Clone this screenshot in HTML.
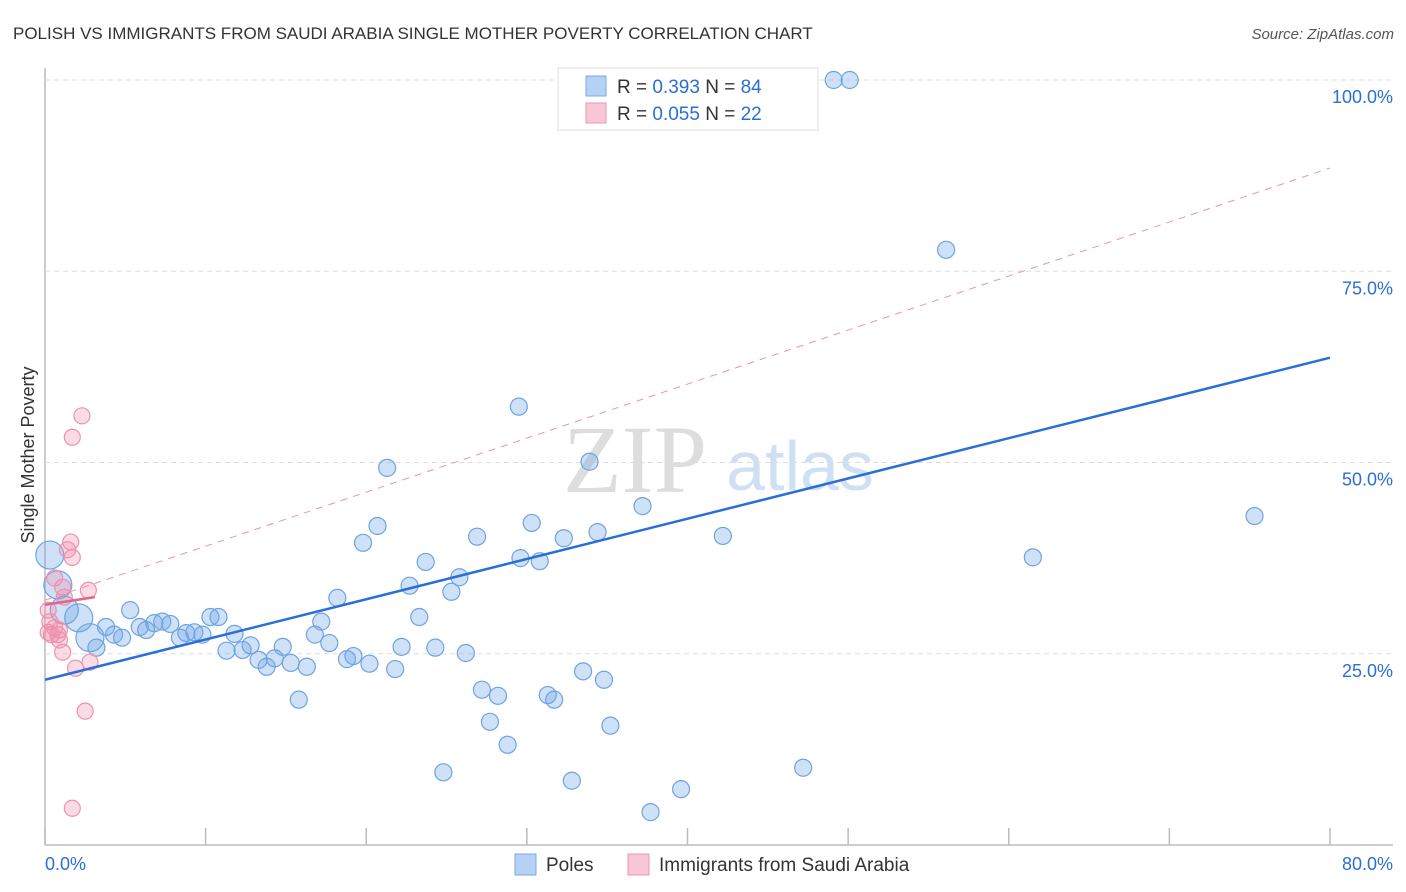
<!DOCTYPE html>
<html><head><meta charset="utf-8"><style>
body{margin:0;background:#fff;font-family:"Liberation Sans",sans-serif}
svg{display:block}
</style></head><body>
<svg id="c" width="1406" height="892" xmlns="http://www.w3.org/2000/svg">
<text x="13" y="39" font-size="17" fill="#333">POLISH VS IMMIGRANTS FROM SAUDI ARABIA SINGLE MOTHER POVERTY CORRELATION CHART</text>
<text x="1394" y="39" font-size="15" fill="#555" font-style="italic" text-anchor="end">Source: ZipAtlas.com</text>
<text x="34" y="455" font-size="18" fill="#333" text-anchor="middle" transform="rotate(-90 34 455)">Single Mother Poverty</text>
<text x="635" y="492" font-size="96" fill="#ddd" font-family="Liberation Serif,serif" text-anchor="middle">ZIP</text>
<text x="800" y="490" font-size="70" fill="#cfe0f4" text-anchor="middle">atlas</text>
<g id="grid"></g><g id="pts"></g><g id="lines"></g>
<g>
<rect x="558" y="68" width="260" height="62" fill="#fff" stroke="#ddd"/>
<rect x="586" y="76" width="20" height="20" fill="#b5d1f3" stroke="#7aaae6"/>
<text x="617" y="93" font-size="19" fill="#333">R = <tspan fill="#2a6fd6">0.393</tspan>   N = <tspan fill="#2a6fd6">84</tspan></text>
<rect x="586" y="103" width="20" height="20" fill="#f8c6d4" stroke="#e89ab2"/>
<text x="617" y="120" font-size="19" fill="#333">R = <tspan fill="#2a6fd6">0.055</tspan>   N = <tspan fill="#2a6fd6">22</tspan></text>
</g>
<g>
<rect x="515" y="854" width="21" height="21" fill="#b5d1f3" stroke="#7aaae6"/>
<text x="546" y="871" font-size="19" fill="#333">Poles</text>
<rect x="628" y="854" width="21" height="21" fill="#f8c6d4" stroke="#e89ab2"/>
<text x="659" y="871" font-size="19" fill="#333">Immigrants from Saudi Arabia</text>
</g>
</svg>
<script>
const xTicks=[0,10,20,30,40,50,60,70,80];
const yTicks=[25,50,75,100];
const yTickLabels=["25.0%","50.0%","75.0%","100.0%"];
const polesX=[0.3,0.8,1.2,2.1,2.8,3.2,3.8,4.3,4.8,5.3,5.9,6.3,6.8,7.3,7.8,8.4,8.8,9.3,9.8,10.3,10.8,11.3,11.8,12.3,12.8,13.3,13.8,14.3,14.8,15.3,15.8,16.3,16.8,17.2,17.7,18.2,18.8,19.2,19.8,20.2,20.7,21.3,21.8,22.2,22.7,23.3,23.7,24.3,24.8,25.3,25.8,26.2,26.9,27.2,27.7,28.2,28.8,29.5,29.6,30.3,30.8,31.3,31.7,32.3,32.8,33.5,33.9,34.4,34.8,35.2,36.0,37.2,37.7,39.6,40.3,42.2,43.3,47.2,49.1,50.1,56.1,61.5,75.3];
const polesY=[37.9,34.0,30.7,29.7,27.1,25.8,28.5,27.5,27.1,30.7,28.5,28.1,29.0,29.2,28.9,27.1,27.7,27.8,27.5,29.8,29.8,25.4,27.6,25.5,26.1,24.2,23.3,24.4,25.9,23.8,19.0,23.3,27.5,29.2,26.4,32.3,24.3,24.7,39.5,23.7,41.7,49.3,23.0,25.9,33.9,29.8,37.0,25.8,9.5,33.1,35.0,25.1,40.3,20.3,16.1,19.5,13.1,57.3,37.5,42.1,37.1,19.6,19.0,40.1,8.4,22.7,50.1,40.9,21.6,15.6,100,44.3,4.3,7.3,100,40.4,100,10.1,100,100,77.8,37.6,43.0];
const polesBig=[1,1,1,1,1];
const saudiX=[0.2,0.3,0.4,0.6,0.8,0.9,1.1,1.1,1.2,1.4,1.6,1.7,1.7,1.9,2.3,2.5,2.7,2.8,1.7,0.6,0.2,0.9];
const saudiY=[30.7,29.2,27.5,28.4,27.5,28.1,25.2,33.7,32.4,38.6,39.6,53.3,37.6,23.1,56.1,17.5,33.3,23.9,4.8,34.9,27.8,26.8];
const polesTrend=[21.6,63.7];
const saudiTrend=[32.0,88.5];
const saudiSolid=[[0,31.4],[3.1,32.4]];
const NS="http://www.w3.org/2000/svg";
const X=v=>45+v*(1285/80), Y=v=>845-v*7.65;
function mk(t,a,p){const e=document.createElementNS(NS,t);for(const k in a)e.setAttribute(k,a[k]);p.appendChild(e);return e;}
const grid=document.getElementById('grid');
const ax=mk('line',{x1:45,y1:68,x2:45,y2:845,stroke:'#bbb','stroke-width':1.5},grid);


const bx=mk('line',{x1:45,y1:845,x2:1393,y2:845,stroke:'#bbb','stroke-width':1.5},grid);


yTicks.forEach((t,i)=>{
 const g=mk('line',{x1:45,y1:Y(t),x2:1393,y2:Y(t),stroke:'#ddd','stroke-dasharray':'5,4'},grid);
 
 
 const l=mk('text',{x:1393,y:Y(t)+23,'font-size':18,fill:'#2a6fd6','text-anchor':'end'},grid);
 l.textContent=yTickLabels[i];
 
 
});
xTicks.forEach(t=>{
 const k=mk('line',{x1:X(t),y1:828,x2:X(t),y2:845,stroke:'#bbb','stroke-width':1.5},grid);
 
 
});
[[0,'0.0%','start',45],[80,'80.0%','end',1393]].forEach(a=>{
 const l=mk('text',{x:a[3],y:870,'font-size':18,fill:'#2a6fd6','text-anchor':a[2]},grid);
 l.textContent=a[1];
 
 
});
const pts=document.getElementById('pts');
polesX.forEach((x,i)=>{
 const c=mk('circle',{cx:X(x),cy:Y(polesY[i]),r:i<polesBig.length?14:8.5,fill:'rgba(110,165,230,0.33)',stroke:'#6ea3e3','stroke-width':1.2},pts);
 
 
});
saudiX.forEach((x,i)=>{
 const c=mk('circle',{cx:X(x),cy:Y(saudiY[i]),r:8,fill:'rgba(242,140,170,0.3)',stroke:'#eb93ae','stroke-width':1.2},pts);
 
 
});
const ln=document.getElementById('lines');
const t1=mk('line',{x1:X(0),y1:Y(polesTrend[0]),x2:X(80),y2:Y(polesTrend[1]),stroke:'#2a6fd6','stroke-width':2.5},ln);


const t2=mk('line',{x1:X(0),y1:Y(saudiTrend[0]),x2:X(80),y2:Y(saudiTrend[1]),stroke:'#eb93ae','stroke-width':1,'stroke-dasharray':'7,6'},ln);


const t3=mk('line',{x1:X(saudiSolid[0][0]),y1:Y(saudiSolid[0][1]),x2:X(saudiSolid[1][0]),y2:Y(saudiSolid[1][1]),stroke:'#e0668c','stroke-width':2.5},ln);


</script>
</body></html>
